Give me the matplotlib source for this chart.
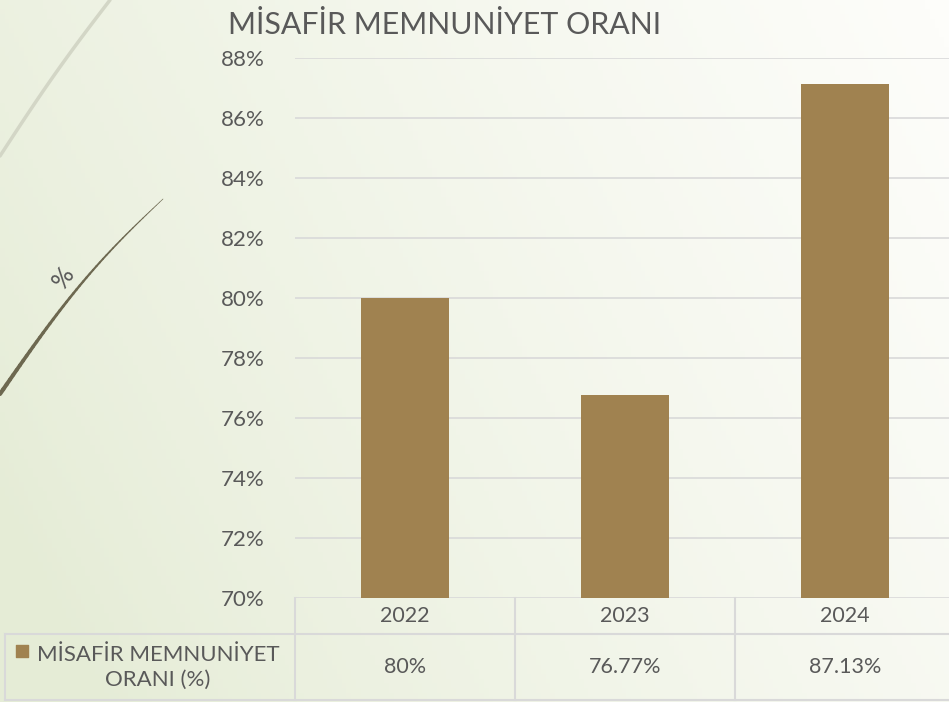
import numpy as np
import matplotlib.pyplot as plt
from matplotlib.ticker import FuncFormatter

# data
years = ["2022", "2023", "2024"]
oran = [0.80, 0.7677, 0.8713]
oran_labels = ["80%", "76.77%", "87.13%"]
series_name = "MİSAFİR MEMNUNİYET\nORANI (%)"
title = "MİSAFİR MEMNUNİYET ORANI"

plt.rcParams['font.family'] = ['Lato', 'DejaVu Sans']
txt = '#595959'
bar_col = '#a08250'
line_col = '#d9d9d9'

W, H = 949, 702
fig = plt.figure(figsize=(W / 100, H / 100), dpi=100)

# background gradient + decoration (pixel coords)
bg = fig.add_axes([0, 0, 1, 1])
xx, yy = np.meshgrid(np.linspace(0, 1, 200), np.linspace(0, 1, 150))
t = np.clip(0.8 * xx + 0.3 * (1 - yy) - 0.08, 0, 1) ** 0.8
c0 = np.array([229, 236, 214]) / 255
c1 = np.array([253, 253, 250]) / 255
img = c0[None, None, :] * (1 - t[..., None]) + c1[None, None, :] * t[..., None]
bg.imshow(img, extent=[0, W, H, 0], aspect='auto')
bg.set_xlim(0, W)
bg.set_ylim(H, 0)
bg.axis('off')

s = np.linspace(0, 1, 50)
gx = 110 * s
gy = 156 - 156 * s - 4 * np.sin(np.pi * s)
bg.plot(gx, gy, color='#d3d6c6', lw=2.5, solid_capstyle='round')

dx = 163 * s
dy = 394 - 195 * s - 13 * np.sin(np.pi * s)
for i in range(len(s) - 1):
    bg.plot(dx[i:i + 2], dy[i:i + 2], color='#6d6850', lw=3.0 - 2.6 * s[i],
            solid_capstyle='round')
bg.text(64, 277, "%", rotation=55, fontsize=18, color=txt, ha='center', va='center')

# main axes
L, B, AW, AH = 295, 598, 660, 540
ax = fig.add_axes([L / W, (H - B) / H, AW / W, AH / H])
ax.patch.set_alpha(0)
x = np.arange(len(years))
ax.bar(x, oran, width=0.4, color=bar_col, zorder=3)
ax.set_xlim(-0.5, 2.5)
ax.set_ylim(0.70, 0.88)
ax.set_yticks(np.arange(0.70, 0.8801, 0.02))
ax.yaxis.set_major_formatter(FuncFormatter(lambda v, p: f"{v * 100:.0f}%"))
ax.tick_params(axis='y', length=0, pad=22, labelsize=16, labelcolor=txt)
ax.set_xticks([])
ax.grid(axis='y', color=line_col, lw=1.2, zorder=0)
for sp in ax.spines.values():
    sp.set_visible(False)

fig.text(228 / W, 1 - 34 / H, title, fontsize=21.8, color=txt, ha='left', va='baseline')

# data table below the axes
tr = ax.get_xaxis_transform()
r1 = -36 / AH
r2 = -102 / AH
xl = (5 - L) / 220 - 0.5
kw = dict(transform=tr, color=line_col, lw=1.5, clip_on=False)
ax.plot([xl, 2.5], [r1, r1], **kw)
ax.plot([xl, 2.5], [r2, r2], **kw)
for xv in [-0.5, 0.5, 1.5]:
    ax.plot([xv, xv], [0, r2], **kw)
ax.plot([xl, xl], [r1, r2], **kw)

for i in range(len(years)):
    ax.text(x[i], r1 / 2, years[i], transform=tr, ha='center', va='center',
            fontsize=15.5, color=txt)
    ax.text(x[i], (r1 + r2) / 2, oran_labels[i], transform=tr, ha='center',
            va='center', fontsize=15.5, color=txt)

ax.scatter([(22 - L) / 220 - 0.5], [r1 - 17 / AH], marker='s', s=70, color=bar_col,
           transform=tr, clip_on=False)
ax.text((158 - L) / 220 - 0.5, (r1 + r2) / 2, series_name, transform=tr, ha='center',
        va='center', multialignment='center', fontsize=16, color=txt, linespacing=1.3)

fig.savefig("out.png", dpi=100)
